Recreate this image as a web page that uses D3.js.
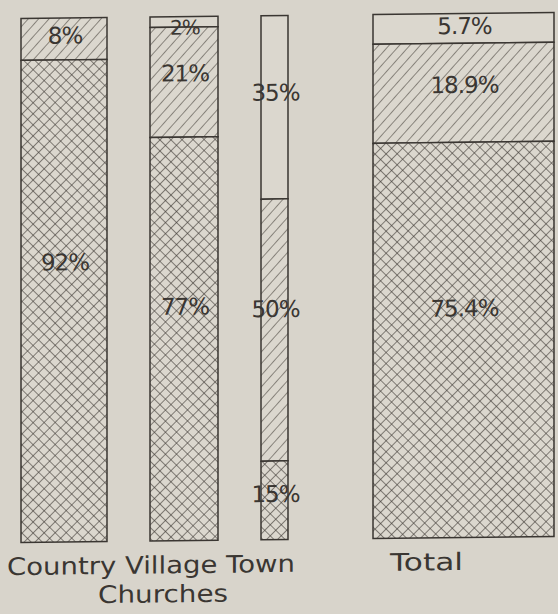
<!DOCTYPE html>
<html>
<head>
<meta charset="utf-8">
<script src="https://cdn.jsdelivr.net/npm/d3@7"></script>
<style>
  html, body { margin: 0; padding: 0; background: #d8d4cb; }
  svg { display: block; }
</style>
</head>
<body>
<script>
// ---- data ----
const categories = ["Country", "Village", "Town", "Total"];
const relativeCounts = [86, 68, 27];          // relative number of churches (bar widths)
const blankValues = [0, 2, 35, 5.7];          // top, unshaded segment (%)
const hatchValues = [8, 21, 50, 18.9];        // middle, single-hatched segment (%)
const crossValues = [92, 77, 15, 75.4];       // bottom, cross-hatched segment (%)
const groupLabel = "Churches";

// ---- layout ----
const W = 558, H = 614;
const svg = d3.select("body").append("svg").attr("width", W).attr("height", H);

svg.append("rect").attr("width", W).attr("height", H).attr("fill", "#d8d4cb");

const defs = svg.append("defs");
const hatch = defs.append("pattern").attr("id", "hatch")
  .attr("patternUnits", "userSpaceOnUse").attr("width", 7.8).attr("height", 7.8)
  .attr("patternTransform", "rotate(42)");
hatch.append("line").attr("x1", 0).attr("y1", -1).attr("x2", 0).attr("y2", 9)
  .attr("stroke", "#4f4a44").attr("stroke-width", 1.2);

const cross = defs.append("pattern").attr("id", "cross")
  .attr("patternUnits", "userSpaceOnUse").attr("width", 7.8).attr("height", 7.8)
  .attr("patternTransform", "rotate(45)");
cross.append("line").attr("x1", 0).attr("y1", -1).attr("x2", 0).attr("y2", 9)
  .attr("stroke", "#3f3a35").attr("stroke-width", 1.2);
cross.append("line").attr("x1", -1).attr("y1", 0).attr("x2", 9).attr("y2", 0)
  .attr("stroke", "#3f3a35").attr("stroke-width", 1.2);

// slight vertical shear of the photographed sheet
const g = svg.append("g").attr("transform", "translate(0, 3.2) skewY(-0.65)");

const totalCount = d3.sum(relativeCounts);
const widths = relativeCounts.concat([totalCount]);
const wScale = d3.scaleLinear().domain([0, totalCount]).range([0, 181]);
const gaps = [0, 43, 43, 85];
const x0 = 21;
const xs = [];
let cur = x0;
widths.forEach((w, i) => { cur += gaps[i]; xs.push(cur); cur += wScale(w); });

const y = d3.scaleLinear().domain([0, 100]).range([15.5, 539.5]);

const ink = "#3a3632";
const fontFam = "'DejaVu Sans', sans-serif";

const bars = g.append("g");
const labels = g.append("g");

categories.forEach((c, i) => {
  const x = xs[i], w = wScale(widths[i]);
  const segs = [
    { v: blankValues[i], fill: "none" },
    { v: hatchValues[i], fill: "url(#hatch)" },
    { v: crossValues[i], fill: "url(#cross)" }
  ];
  let acc = 0;
  segs.forEach(s => {
    if (s.v <= 0) return;
    const top = y(acc), bot = y(acc + s.v);
    acc += s.v;
    bars.append("rect").attr("x", x).attr("y", top).attr("width", w).attr("height", bot - top)
      .attr("fill", "#dbd7ce");
    bars.append("rect").attr("x", x).attr("y", top).attr("width", w).attr("height", bot - top)
      .attr("fill", s.fill).attr("stroke", ink).attr("stroke-width", 1.5);
    const h = bot - top;
    const ty = h < 20 ? bot + 0.5 : top + 0.42 * h;
    labels.append("text").attr("x", x + w / 2 + 1).attr("y", ty)
      .attr("text-anchor", "middle").attr("dominant-baseline", "central")
      .attr("font-family", fontFam).attr("font-size", h < 20 ? 20 : 23)
      .attr("letter-spacing", -1)
      .attr("fill", ink).text(s.v + "%");
  });
});

// category labels
const labY = 572;
const rowText = categories.slice(0, 3).join(" ");
labels.append("text").attr("x", xs[0] - 14).attr("y", labY)
  .attr("font-family", fontFam).attr("font-size", 24).attr("fill", ink)
  .attr("textLength", 288).attr("lengthAdjust", "spacingAndGlyphs")
  .text(rowText);
labels.append("text").attr("x", xs[0] + 77).attr("y", 601)
  .attr("font-family", fontFam).attr("font-size", 24).attr("fill", ink)
  .attr("textLength", 130).attr("lengthAdjust", "spacingAndGlyphs")
  .text(groupLabel);
labels.append("text").attr("x", xs[3] + 17).attr("y", labY)
  .attr("font-family", fontFam).attr("font-size", 24).attr("fill", ink)
  .attr("textLength", 73).attr("lengthAdjust", "spacingAndGlyphs")
  .text(categories[3]);
</script>
</body>
</html>
